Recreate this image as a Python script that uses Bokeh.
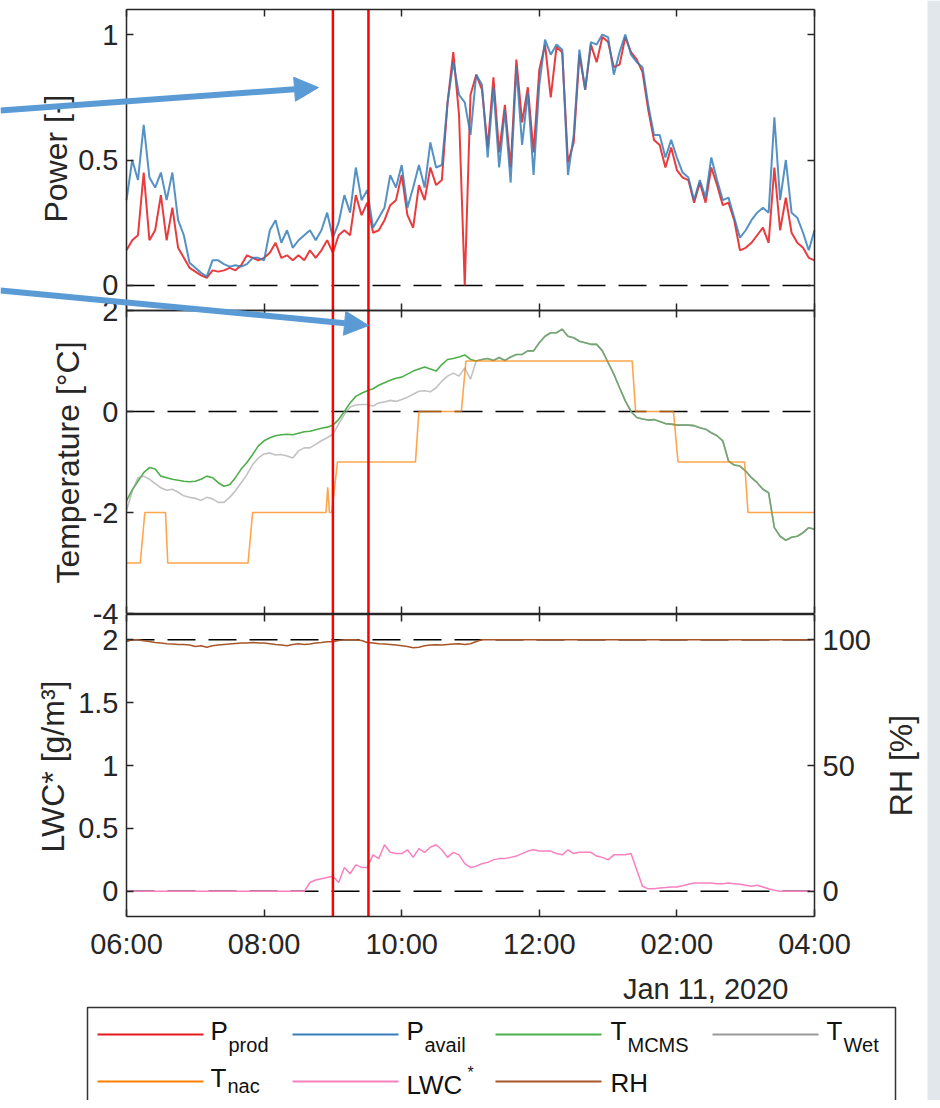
import math
import pandas as pd
from bokeh.plotting import figure
from bokeh.models import (Range1d, LinearAxis, FixedTicker, PrintfTickFormatter,
                          DatetimeTickFormatter, CustomJSTickFormatter, Arrow,
                          NormalHead, Label, ColumnDataSource, BoxAnnotation)
from bokeh.embed import file_html
from bokeh.resources import INLINE

FONT = "Liberation Sans"
INK = "#262626"

# ---------------- data ----------------
start = pd.Timestamp("2020-01-11 06:00")
end = pd.Timestamp("2020-01-11 16:00")
time = pd.date_range(start, end, freq="5min")          # 121 samples

p_prod = [0.14, 0.18, 0.20, 0.45, 0.18, 0.22, 0.36, 0.18, 0.31, 0.15,
          0.11, 0.07, 0.055, 0.04, 0.03, 0.06, 0.055, 0.06, 0.07, 0.06,
          0.08, 0.12, 0.11, 0.10, 0.11, 0.13, 0.17, 0.11, 0.12, 0.10,
          0.12, 0.10, 0.14, 0.11, 0.14, 0.18, 0.13, 0.20, 0.22, 0.20,
          0.36, 0.28, 0.33, 0.21, 0.22, 0.26, 0.32, 0.34, 0.44, 0.28,
          0.23, 0.40, 0.34, 0.47, 0.40, 0.42, 0.73, 0.93, 0.68, 0.00,
          0.76, 0.84, 0.78, 0.55, 0.83, 0.53, 0.72, 0.47, 0.90, 0.65,
          0.79, 0.53, 0.86, 0.96, 0.75, 0.95, 0.93, 0.49, 0.57, 0.92,
          0.78, 0.96, 0.89, 0.99, 0.97, 0.87, 0.88, 0.99, 0.93, 0.90,
          0.85, 0.70, 0.58, 0.56, 0.47, 0.55, 0.46, 0.43, 0.42, 0.33,
          0.41, 0.33, 0.47, 0.40, 0.32, 0.33, 0.26, 0.14, 0.15, 0.17,
          0.20, 0.23, 0.17, 0.47, 0.22, 0.35, 0.21, 0.17, 0.15, 0.11,
          0.10]

p_avail = [0.34, 0.50, 0.42, 0.64, 0.43, 0.39, 0.45, 0.34, 0.45, 0.26,
           0.20, 0.09, 0.07, 0.05, 0.035, 0.10, 0.10, 0.085, 0.075, 0.08,
           0.075, 0.085, 0.11, 0.11, 0.10, 0.22, 0.26, 0.17, 0.22, 0.15,
           0.18, 0.20, 0.22, 0.18, 0.22, 0.29, 0.19, 0.25, 0.36, 0.29,
           0.47, 0.34, 0.38, 0.23, 0.27, 0.31, 0.44, 0.39, 0.48, 0.31,
           0.39, 0.48, 0.39, 0.57, 0.47, 0.48, 0.73, 0.89, 0.76, 0.73,
           0.60, 0.84, 0.80, 0.51, 0.79, 0.47, 0.70, 0.41, 0.87, 0.56,
           0.77, 0.44, 0.80, 0.98, 0.92, 0.96, 0.94, 0.44, 0.60, 0.94,
           0.78, 0.97, 0.96, 1.00, 0.99, 0.84, 0.93, 1.00, 0.92, 0.89,
           0.87, 0.72, 0.60, 0.60, 0.51, 0.58, 0.51, 0.45, 0.43, 0.34,
           0.42, 0.35, 0.51, 0.42, 0.34, 0.35, 0.27, 0.19, 0.22, 0.26,
           0.29, 0.31, 0.29, 0.67, 0.34, 0.50, 0.29, 0.27, 0.21, 0.14,
           0.22]

t_mcms = [-1.77, -1.55, -1.38, -1.21, -1.11, -1.14, -1.28, -1.31, -1.34, -1.36,
          -1.38, -1.39, -1.38, -1.34, -1.28, -1.31, -1.41, -1.48, -1.45, -1.31,
          -1.14, -1.01, -0.85, -0.68, -0.58, -0.52, -0.48, -0.46, -0.45, -0.46,
          -0.43, -0.40, -0.39, -0.36, -0.33, -0.31, -0.27, -0.16, 0.00, 0.17,
          0.30, 0.36, 0.41, 0.45, 0.52, 0.57, 0.62, 0.66, 0.68, 0.74,
          0.80, 0.84, 0.88, 0.84, 0.80, 0.93, 1.03, 1.05, 1.08, 1.12,
          1.03, 1.00, 1.03, 1.05, 1.01, 1.07, 1.01, 1.08, 1.13, 1.13,
          1.20, 1.20, 1.36, 1.49, 1.56, 1.56, 1.63, 1.49, 1.46, 1.39,
          1.36, 1.33, 1.33, 1.20, 0.97, 0.74, 0.47, 0.21, 0.00, -0.12,
          -0.15, -0.17, -0.16, -0.20, -0.24, -0.25, -0.27, -0.27, -0.27, -0.28,
          -0.32, -0.35, -0.42, -0.48, -0.58, -0.98, -1.06, -1.08, -1.18, -1.31,
          -1.41, -1.54, -1.61, -2.30, -2.47, -2.55, -2.49, -2.47, -2.40, -2.30,
          -2.33]

# wet-bulb sensor until 11:00; afterwards it reads the same as the MCMS sensor
t_wet_early = [-1.96, -1.58, -1.31, -1.28, -1.34, -1.43, -1.51, -1.56, -1.54, -1.60,
               -1.67, -1.70, -1.72, -1.76, -1.70, -1.73, -1.80, -1.80, -1.70, -1.57,
               -1.41, -1.25, -1.05, -0.92, -0.84, -0.82, -0.86, -0.85, -0.88, -0.92,
               -0.78, -0.72, -0.72, -0.65, -0.58, -0.52, -0.45, -0.25, -0.06, 0.09,
               0.13, 0.14, 0.14, 0.11, 0.17, 0.19, 0.22, 0.20, 0.24, 0.28,
               0.34, 0.40, 0.41, 0.39, 0.47, 0.60, 0.70, 0.76, 0.70, 0.86,
               0.64]
t_wet = t_wet_early + t_mcms[len(t_wet_early):]

# nacelle temperature: breakpoints (minutes after 06:00) and values
tnac_min = [0, 12, 16, 34, 36, 106, 110, 174, 175.5, 177, 179, 184,
            252, 255, 292, 296, 441, 444, 477, 481, 539, 542, 600]
tnac_val = [-3, -3, -2, -2, -3, -3, -2, -2, -1.5, -2, -2, -1,
            -1, 0, 0, 1, 1, 0, 0, -1, -1, -2, -2]

lwc = [0, 0, 0, 0, 0, 0, 0, 0, 0, 0,
       0, 0, 0, 0, 0, 0, 0, 0, 0, 0,
       0, 0, 0, 0, 0, 0, 0, 0, 0, 0,
       0, 0, 0.07, 0.09, 0.10, 0.11, 0.12, 0.07, 0.19, 0.14,
       0.21, 0.19, 0.19, 0.29, 0.26, 0.37, 0.31, 0.30, 0.30, 0.33,
       0.27, 0.34, 0.31, 0.35, 0.37, 0.33, 0.27, 0.31, 0.29, 0.22,
       0.19, 0.20, 0.22, 0.23, 0.25, 0.26, 0.26, 0.27, 0.28, 0.30,
       0.32, 0.33, 0.32, 0.32, 0.32, 0.30, 0.29, 0.33, 0.30, 0.31,
       0.31, 0.31, 0.28, 0.27, 0.25, 0.29, 0.29, 0.29, 0.30, 0.17,
       0.04, 0.02, 0.02, 0.027, 0.03, 0.035, 0.035, 0.045, 0.056, 0.066,
       0.066, 0.066, 0.066, 0.061, 0.061, 0.066, 0.061, 0.056, 0.048, 0.04,
       0.048, 0.035, 0.02, 0.008, 0, 0, 0, 0, 0, 0,
       0]

rh = [99.3, 100, 100, 99.6, 99.3, 98.9, 98.7, 98.4, 98.3, 98.1,
      98.1, 97.9, 97.3, 97.6, 97.0, 97.6, 97.9, 98.1, 98.3, 98.5,
      98.7, 98.7, 98.9, 98.7, 98.7, 98.4, 98.1, 97.9, 97.6, 98.1,
      98.4, 98.1, 98.3, 98.7, 98.9, 99.2, 99.2, 99.7, 100, 100,
      100, 99.7, 98.9, 98.7, 98.4, 98.3, 98.1, 97.9, 97.6, 97.3,
      96.8, 97.0, 97.6, 97.9, 98.0, 97.9, 98.1, 98.3, 98.4, 98.1,
      98.4, 99.3, 100, 100, 100, 100, 100, 100, 100, 100,
      100, 100, 100, 100, 100, 100, 100, 100, 100, 100,
      100, 100, 100, 100, 100, 100, 100, 100, 100, 100,
      100, 100, 100, 100, 100, 100, 100, 100, 100, 100,
      100, 100, 100, 100, 100, 100, 100, 100, 100, 100,
      100, 100, 100, 100, 100, 100, 100, 100, 100, 100,
      100]

marker_times = ["2020-01-11 09:00", "2020-01-11 09:31"]
x_tick_times = pd.date_range(start, end, freq="2h")
power_ticks = [0, 0.5, 1]
temp_ticks = [-4, -2, 0, 2]
lwc_ticks = [0, 0.5, 1, 1.5, 2]
rh_ticks = [0, 50, 100]

COL = {"prod": "#e41a1c", "avail": "#377eb8", "mcms": "#4daf4a", "wet": "#999999",
       "nac": "#ff7f00", "lwc": "#f781bf", "rh": "#a65628"}
ARROW = "#5B9BD5"

# ---------------- layout (pixels on the page) ----------------
W, H = 940, 1100
FX0, FX1 = 126, 814                      # left / right edge of the axes boxes
BANDS = {"pow": (9, 310), "temp": (310, 613), "lwc": (614, 916), "rh": (614, 916)}
LIMS = {"pow": (-0.1, 1.1), "temp": (-4, 2), "lwc": (-0.2, 2.2), "rh": (-10, 110)}
TICK_FS = "29px"
TITLE_FS = "32px"
BASE_SHIFT = 8       # Bokeh draws "alphabetic" labels this many px lower


def ms(ts):
    return pd.Timestamp(ts).value / 1e6


T0, T1 = ms(start), ms(end)
per_px = (T1 - T0) / (FX1 - FX0)
xr = Range1d(T0 - FX0 * per_px, T1 + (W - FX1) * per_px)


def band_range(name):
    top, bot = BANDS[name]
    lo, hi = LIMS[name]
    k = (hi - lo) / (bot - top)
    return Range1d(start=lo - (H - bot) * k, end=hi + top * k)


p = figure(width=W, height=H, x_range=xr, y_range=Range1d(H, 0), min_border=0,
           x_axis_location=None, y_axis_location=None, toolbar_location=None,
           output_backend="svg")
p.extra_x_ranges = {"px": Range1d(0, W)}
p.extra_y_ranges = {n: band_range(n) for n in BANDS}
p.outline_line_color = None
p.background_fill_color = "white"
p.border_fill_color = "white"
p.xgrid.visible = False
p.ygrid.visible = False

# textured strip at the right edge
p.add_layout(BoxAnnotation(left=927, x_range_name="px", fill_color="#e2e7eb", fill_alpha=1.0,
                           line_color=None, level="underlay"))

src = ColumnDataSource(dict(t=time, p_prod=p_prod, p_avail=p_avail, t_mcms=t_mcms,
                            t_wet=t_wet, lwc=lwc, rh=rh))
nac_src = ColumnDataSource(dict(t=start + pd.to_timedelta(tnac_min, unit="min"), v=tnac_val))


def style(ax, show=True):
    ax.axis_line_color = INK
    ax.axis_line_width = 1.5
    ax.major_tick_in = 7
    ax.major_tick_out = 0
    ax.minor_tick_line_color = None
    ax.major_tick_line_color = INK
    ax.major_tick_line_width = 1.5
    ax.major_label_text_font = FONT
    ax.major_label_text_color = INK
    if show:
        ax.major_label_text_font_size = TICK_FS
        ax.major_label_standoff = 8
    else:
        ax.formatter = CustomJSTickFormatter(code="return ''")
        ax.major_label_text_font_size = "0px"
        ax.major_label_standoff = 0
    return ax


def y_axis(side, rname, ticks, show, loc):
    lo, hi = LIMS[rname]
    ax = LinearAxis(y_range_name=rname, fixed_location=loc, bounds=(lo, hi),
                    ticker=FixedTicker(ticks=ticks))
    style(ax, show)
    if show:
        ax.formatter = PrintfTickFormatter(format="%g")
    p.add_layout(ax, side)
    return ax


def x_axis(side, rname, loc, show=False):
    ax = LinearAxis(y_range_name=rname, fixed_location=loc, bounds=(T0, T1),
                    ticker=FixedTicker(ticks=[ms(t) for t in x_tick_times]))
    style(ax, show)
    if show:
        ax.formatter = DatetimeTickFormatter(hours="%I:%M", hourmin="%I:%M",
                                             minutes="%I:%M", days="%I:%M")
        ax.major_label_standoff = 11
    p.add_layout(ax, side)
    return ax


def ref_line(rname, level):
    p.line([T0, T1], [level, level], y_range_name=rname, line_color="black",
           line_width=1.5, line_dash="28 13")


def axis_title(text, x, y, angle=math.pi / 2):
    p.add_layout(Label(x=x, y=y, x_range_name="px", text=text, angle=angle,
                       text_font=FONT, text_font_size=TITLE_FS, text_color=INK,
                       text_align="center", text_baseline="middle"))


def page_text(text, x, y, size, align="left", color="#111111"):
    p.add_layout(Label(x=x, y=y - BASE_SHIFT, x_range_name="px", text=text, text_font=FONT,
                       text_font_size=size, text_color=color,
                       text_baseline="alphabetic", text_align=align))


# ---- reference (dashed) lines ----
ref_line("pow", 0)
ref_line("temp", 0)
ref_line("lwc", 0)
ref_line("lwc", 2)

# ---- top panel: power ----
p.line("t", "p_prod", source=src, y_range_name="pow", line_color=COL["prod"],
       line_width=2, line_alpha=0.85)
p.line("t", "p_avail", source=src, y_range_name="pow", line_color=COL["avail"],
       line_width=2, line_alpha=0.85)
y_axis("left", "pow", power_ticks, True, T0)
y_axis("right", "pow", power_ticks, False, T1)
x_axis("above", "pow", LIMS["pow"][1])
x_axis("below", "pow", LIMS["pow"][0])
axis_title("Power [-]", 55, 158)

# ---- middle panel: temperature ----
p.line("t", "t_mcms", source=src, y_range_name="temp", line_color=COL["mcms"], line_width=1.6)
p.line("t", "t_wet", source=src, y_range_name="temp", line_color=COL["wet"], line_width=1.6,
       line_alpha=0.6)
p.line("t", "v", source=nac_src, y_range_name="temp", line_color=COL["nac"], line_width=1.6,
       line_alpha=0.7)
y_axis("left", "temp", temp_ticks, True, T0)
y_axis("right", "temp", [], False, T1)
x_axis("above", "temp", LIMS["temp"][1])
x_axis("below", "temp", LIMS["temp"][0])
axis_title("Temperature [°C]", 67, 462)

# ---- bottom panel: LWC / RH ----
p.line("t", "lwc", source=src, y_range_name="lwc", line_color=COL["lwc"], line_width=1.5)
p.line("t", "rh", source=src, y_range_name="rh", line_color=COL["rh"], line_width=1.5)
y_axis("left", "lwc", lwc_ticks, True, T0)
y_axis("right", "rh", rh_ticks, True, T1)
x_axis("above", "lwc", LIMS["lwc"][1])
x_axis("below", "lwc", LIMS["lwc"][0], show=True)
axis_title("LWC* [g/m³]", 52, 766)
axis_title("RH [%]", 900, 765)
page_text("Jan 11, 2020", 788, 996, TICK_FS, align="right", color=INK)

# ---- event markers spanning the three panels ----
mt = [ms(t) for t in marker_times]
p.segment(x0=mt, y0=[BANDS["pow"][0]] * 2, x1=mt, y1=[BANDS["lwc"][1]] * 2,
          line_color="#ff0000", line_width=2.5)

# ---- arrows (page coordinates) ----
head = dict(fill_color=ARROW, line_color=ARROW, line_width=1)
p.add_layout(Arrow(x_start=0, y_start=110, x_end=318, y_end=87, x_range_name="px",
                   line_color=ARROW, line_width=6, end=NormalHead(size=24, **head)))
p.add_layout(Arrow(x_start=0, y_start=290, x_end=368, y_end=325, x_range_name="px",
                   line_color=ARROW, line_width=6, end=NormalHead(size=24, **head)))

# ---- legend box (page coordinates) ----
p.line([87, 87, 895, 895], [H, 1007, 1007, H], x_range_name="px",
       line_color="#333333", line_width=1.5)
key_x0 = [97, 292, 495, 712, 97, 292, 495]
key_y = [1034, 1034, 1034, 1034, 1081, 1081, 1081]
key_col = [COL["prod"], COL["avail"], COL["mcms"], COL["wet"], COL["nac"], COL["lwc"], COL["rh"]]
p.segment(x0=key_x0, y0=key_y, x1=[x + 106 for x in key_x0], y1=key_y, x_range_name="px",
          line_color=key_col, line_width=2)
legend_texts = [("P", 210, 1038, "26px"), ("prod", 228, 1052, "20px"),
                ("P", 406, 1038, "26px"), ("avail", 424, 1052, "20px"),
                ("T", 610, 1038, "26px"), ("MCMS", 627, 1052, "20px"),
                ("T", 826, 1038, "26px"), ("Wet", 843, 1052, "20px"),
                ("T", 210, 1085, "26px"), ("nac", 227, 1093, "20px"),
                ("LWC", 406, 1092, "26px"), ("*", 467, 1080, "16px"),
                ("RH", 610, 1090, "26px")]
for txt, lx, ly, fs in legend_texts:
    page_text(txt, lx, ly, fs)

open("out.html", "w").write(file_html(p, INLINE))
